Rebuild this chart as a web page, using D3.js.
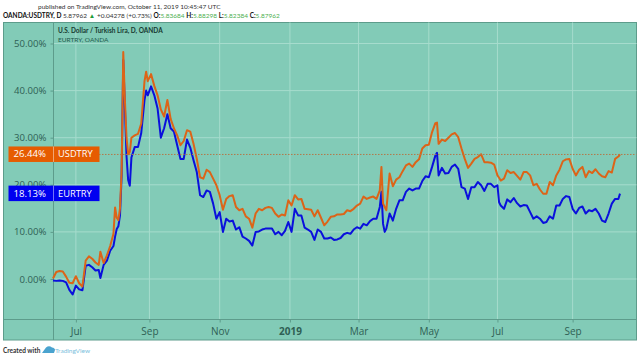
<!DOCTYPE html>
<html>
<head>
<meta charset="utf-8">
<script src="https://cdn.jsdelivr.net/npm/d3@7"></script>
<style>
  html, body { margin: 0; padding: 0; background: #fff; overflow: hidden; }
  text { font-family: "Open Sans", sans-serif; }
  text.small { font-family: Lato, sans-serif; }
</style>
</head>
<body>
<div id="chart-container"></div>
<script>
// Data: bar number (trading days since the first bar), percent change per series
const bars = [
  0, 2, 4, 6, 8, 10, 12, 14, 16, 18,
  20, 22, 24, 26, 28, 29, 31, 33, 35, 37,
  38, 39, 40, 41, 42, 43, 44, 45, 46, 47,
  48, 50, 52, 54, 56, 57, 58, 60, 62, 64,
  66, 68, 70, 72, 74, 76, 78, 80, 82, 84,
  86, 88, 90, 92, 94, 96, 98, 100, 102, 104,
  106, 108, 110, 112, 114, 116, 118, 120, 122, 124,
  126, 128, 130, 132, 134, 136, 138, 140, 142, 144,
  146, 148, 150, 152, 154, 156, 158, 160, 162, 164,
  166, 168, 170, 172, 174, 176, 178, 180, 182, 184,
  186, 188, 190, 192, 194, 196, 198, 200, 201, 202,
  203, 204, 206, 208, 210, 212, 214, 216, 218, 220,
  222, 224, 226, 228, 230, 232, 234, 235, 236, 238,
  240, 242, 244, 246, 248, 250, 252, 254, 256, 258,
  260, 262, 264, 266, 268, 270, 272, 273, 274, 276,
  278, 280, 282, 284, 286, 288, 290, 292, 294, 296,
  298, 300, 302, 304, 306, 308, 310, 312, 314, 316,
  318, 320, 322, 324, 326, 328, 330, 332, 334, 336,
  338, 340, 342, 344, 346, 347
];

const usdtry = [
  0.1, 1.5, 1.7, 1.6, 0.5, -0.8, -0.9, 0.6, -0.9, -1.6,
  3.9, 4.8, 4.3, 3.5, 3, 5.8, 3.4, 5, 7, 9.6,
  15.2, 13, 12.5, 15, 23, 48.2, 38, 30, 26.5, 27,
  30, 30.5, 30.8, 33, 42, 44, 42, 43.5, 41, 39,
  36, 34.5, 38, 34, 32, 30.5, 28.4, 29.3, 31.6, 31.3,
  28.7, 25.5, 21.6, 21.3, 23.2, 22.7, 21.3, 19.9, 17.8, 14.7,
  17, 17.6, 17.8, 15.3, 14.6, 14.9, 13.3, 12.8, 10.9, 13.9,
  14.9, 14.6, 15.1, 15.3, 15.1, 13.9, 13.2, 13.7, 13.5, 16.7,
  15.6, 17.8, 16.9, 17, 14.9, 14.8, 14.7, 13.3, 14.6, 13,
  11.4, 12.2, 13.2, 13.3, 13.7, 13.7, 13.8, 14.6, 14.4, 14.9,
  15.6, 16, 17.5, 17, 17.3, 17.5, 17, 18.8, 23.8, 16,
  15.3, 14.6, 22.4, 19.7, 21.1, 21.6, 22.9, 24.1, 24.5, 23.8,
  24.8, 25.4, 27.7, 28.4, 28.5, 31.2, 33.1, 33.2, 28.7, 29.6,
  29.3, 30, 30.7, 31, 30.1, 27.7, 25.5, 23.6, 24.5, 25.5,
  25.9, 26.5, 24.8, 24.8, 24.7, 24.3, 22, 21.5, 20.9, 21.3,
  23.1, 22.5, 22.7, 21.9, 21.1, 22.7, 22.7, 22, 19.9, 20.2,
  19, 18.1, 18.1, 20.6, 19.9, 22, 23.2, 25, 25.4, 25.5,
  23.4, 22, 23.2, 23.8, 21.6, 22.9, 22.5, 23.3, 22.4, 21.8,
  21.6, 22.9, 22.6, 25.5, 26, 26.44
];

const eurtry = [
  -0.3, -0.4, -0.3, -0.4, -0.7, -2.3, -3.3, -1.4, -2.2, -2.4,
  2.8, 3, 2.5, 1.8, 1.9, 0.2, 3, 3.9, 6, 7,
  9, 10.6, 11.2, 13.5, 22, 46.5, 36.6, 26, 21, 19.8,
  25.8, 28, 28, 31, 38, 40, 39, 40.9, 39, 36.2,
  30, 32, 35, 32, 31.3, 28.4, 25.5, 25.5, 29.6, 27.9,
  25.2, 22.7, 17.8, 17.4, 18.8, 18.5, 16, 12.8, 14.2, 10,
  12.8, 12.2, 12.4, 10.5, 11, 9, 8.6, 8.1, 7.1, 10,
  10.1, 10.5, 10.7, 10.7, 10.7, 9.5, 10, 9.3, 10.2, 12.1,
  10, 14.9, 13.5, 13.5, 10.9, 10.5, 10, 8.3, 10.5, 10,
  8.6, 8.6, 8.8, 8.3, 8.4, 8.7, 9.5, 9.8, 9.6, 10.5,
  11, 10.7, 11.7, 11.4, 12.3, 12.8, 12.8, 15.3, 18.5, 11.7,
  10, 10.7, 13.9, 12.4, 14.9, 16.7, 16.7, 18.5, 19.2, 18.8,
  19.2, 19.2, 20.8, 21.8, 21.6, 23.8, 26.2, 26.8, 22, 23.6,
  22.4, 22.5, 23.8, 24.3, 23.4, 19.5, 19.2, 17, 19.5, 19.5,
  20.6, 19.9, 18.7, 20.2, 20.2, 19.5, 19.9, 16.3, 15.6, 14.9,
  16.9, 16.3, 17.2, 16.1, 15.4, 15.7, 15.6, 14.2, 12.8, 13.3,
  12.8, 11.9, 12.1, 13.3, 12.8, 15.6, 15.6, 17, 17.6, 17.4,
  14.9, 13.9, 15.1, 15.4, 13.9, 14.6, 14.4, 14.9, 13.9, 12.4,
  12.1, 13.9, 16, 17, 17, 18.13
];

const yTicks = [0, 10, 20, 30, 40, 50];
const xTickBars = [14, 59, 102, 145, 187, 230, 272, 318];
const xTickLabels = ["Jul", "Sep", "Nov", "2019", "Mar", "May", "Jul", "Sep"];

const legendOhlc = [
  ["O:", "5.83684"], ["H:", "5.88298"], ["L:", "5.82384"], ["C:", "5.87962"]
];

const width = 640, height = 359;
const frame = { left: 3.5, top: 22.5, right: 636.5, bottom: 340 };
const plot = { left: 53.5, top: 22.5, right: 636.5, bottom: 319.5 };

const bg = "#82cbb7", gridColor = "#a6dccd", frameColor = "#5d9c8b", axisText = "#2f5f54";
const orange = "#e65c00", blue = "#0000f0";

const svg = d3.select("#chart-container")
  .append("svg")
  .attr("width", width)
  .attr("height", height)
  .style("display", "block");

svg.append("rect")
  .attr("x", frame.left).attr("y", frame.top)
  .attr("width", frame.right - frame.left).attr("height", frame.bottom - frame.top)
  .attr("fill", bg).attr("stroke", frameColor);

// Scales
const xScale = d3.scaleLinear().domain([0, 347]).range([53, 620]);
const yScale = d3.scaleLinear().domain([0, 50]).range([279, 43.5]);

// Grid
svg.append("g").selectAll("line").data(xTickBars).enter().append("line")
  .attr("x1", d => xScale(d)).attr("x2", d => xScale(d))
  .attr("y1", plot.top).attr("y2", plot.bottom)
  .attr("stroke", gridColor);

svg.append("g").selectAll("line").data(yTicks).enter().append("line")
  .attr("x1", plot.left).attr("x2", plot.right)
  .attr("y1", d => yScale(d)).attr("y2", d => yScale(d))
  .attr("stroke", gridColor);

// Axes
const xAxis = svg.append("g")
  .attr("transform", `translate(0,${plot.bottom})`)
  .call(d3.axisBottom(xScale).tickValues(xTickBars)
    .tickFormat((d, i) => xTickLabels[i]).tickSize(3).tickPadding(5));
xAxis.select(".domain").remove();
xAxis.selectAll("line").attr("stroke", frameColor);
xAxis.selectAll("text")
  .attr("fill", axisText).style("font-size", "10px")
  .style("font-weight", d => d === 145 ? "bold" : "normal");

const yAxis = svg.append("g")
  .attr("transform", `translate(${plot.left},0)`)
  .call(d3.axisLeft(yScale).tickValues(yTicks)
    .tickFormat(d => d.toFixed(2) + "%").tickSize(3).tickPadding(4));
yAxis.select(".domain").remove();
yAxis.selectAll("line").attr("stroke", frameColor);
yAxis.selectAll("text").attr("fill", axisText).style("font-size", "9.6px");

svg.append("line")
  .attr("x1", plot.left).attr("x2", plot.left)
  .attr("y1", plot.top).attr("y2", frame.bottom)
  .attr("stroke", frameColor);
svg.append("line")
  .attr("x1", frame.left).attr("x2", frame.right)
  .attr("y1", plot.bottom).attr("y2", plot.bottom)
  .attr("stroke", frameColor);

// Series lines
const line = d3.line()
  .x((d, i) => xScale(bars[i]))
  .y(d => yScale(d));

svg.append("path").datum(eurtry)
  .attr("fill", "none").attr("stroke", "#0a10dc")
  .attr("stroke-width", 2).attr("stroke-linejoin", "round")
  .attr("d", line);

svg.append("path").datum(usdtry)
  .attr("fill", "none").attr("stroke", "#dc6418")
  .attr("stroke-width", 2).attr("stroke-linejoin", "round")
  .attr("d", line);

// Last value line for USDTRY
svg.append("line")
  .attr("x1", 99).attr("x2", plot.right)
  .attr("y1", yScale(26.44)).attr("y2", yScale(26.44))
  .attr("stroke", "#b2794a").attr("stroke-dasharray", "1.5,1.5");

// Price tags on the axis
const tags = [
  { name: "USDTRY", value: 26.44, color: orange },
  { name: "EURTRY", value: 18.13, color: blue }
];
const tag = svg.append("g").selectAll("g").data(tags).enter().append("g")
  .attr("transform", d => `translate(0,${yScale(d.value)})`);
tag.append("rect")
  .attr("x", 8.5).attr("y", -8).attr("width", 91).attr("height", 15.5)
  .attr("fill", d => d.color);
tag.append("line")
  .attr("x1", plot.left).attr("x2", plot.left).attr("y1", -8).attr("y2", 7.5)
  .attr("stroke", "#fff").attr("stroke-opacity", 0.45);
tag.append("text")
  .attr("x", 46).attr("y", 3).attr("text-anchor", "end")
  .attr("fill", "#fff").style("font-size", "9.6px")
  .text(d => d.value.toFixed(2) + "%");
tag.append("text")
  .attr("x", 58).attr("y", 3)
  .attr("fill", "#fff").style("font-size", "9.3px")
  .text(d => d.name);

// Header
svg.append("text").attr("class", "small").attr("x", 38).attr("y", 8.5)
  .attr("fill", "#333").style("font-size", "6.5px")
  .text("published on TradingView.com, October 11, 2019 10:45:47 UTC");

const head = svg.append("text").attr("class", "small").attr("x", 3).attr("y", 17.5).style("font-size", "6.5px");
head.append("tspan").attr("fill", "#111").style("font-weight", "bold").text("OANDA:USDTRY, D ");
head.append("tspan").attr("fill", "#333").text(" 5.87962 ");
head.append("tspan").attr("fill", "#1e9e3a").text("▲");
head.append("tspan").attr("fill", "#333").text(" +0.04278 (+0.73%) ");
legendOhlc.forEach(([k, v]) => {
  head.append("tspan").attr("fill", "#111").style("font-weight", "bold").text(k);
  head.append("tspan").attr("fill", "#4caf50").text(v + " ");
});

svg.append("text").attr("class", "small").attr("x", 58).attr("y", 33)
  .attr("fill", "#173a31").style("font-size", "6.5px").style("font-weight", "bold")
  .text("U.S. Dollar / Turkish Lira, D, OANDA");
svg.append("text").attr("class", "small").attr("x", 58).attr("y", 42)
  .attr("fill", "#1f5a4a").style("font-size", "6.5px")
  .text("EURTRY, OANDA");

// Footer
svg.append("text").attr("class", "small").attr("x", 3).attr("y", 352.5)
  .attr("fill", "#333").style("font-size", "6.5px").style("font-weight", "bold")
  .text("Created with");
svg.append("path")
  .attr("d", "M42,353 L46,347.5 Q49,345 52,347.5 Q55,348 55,350 L54,353 Z")
  .attr("fill", "#4aa3cf");
svg.append("text").attr("class", "small").attr("x", 55).attr("y", 352.5)
  .attr("fill", "#7cc0dc").style("font-size", "6.5px")
  .text("TradingView");
</script>
</body>
</html>
